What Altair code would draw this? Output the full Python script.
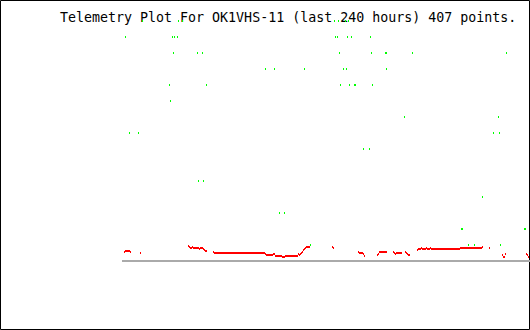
import altair as alt
import pandas as pd

TITLE = "Telemetry Plot For OK1VHS-11 (last 240 hours) 407 points."

# red series: runs of consecutive samples (start sample index, values)
red_starts = [2, 18, 66, 91, 143, 163, 210, 236, 255, 271, 283, 295, 367, 380, 404]
red_values = [
    [9, 10, 10, 10, 10, 10, 9],
    [8],
    [15, 14, 13, 13, 14, 13, 13, 13, 13, 13, 13, 12, 13, 13, 13, 12, 11, 10, 10],
    [9, 8, 8, 8, 8, 8, 8, 8, 8, 8, 8, 8, 8, 8, 8, 8, 8, 8, 8, 8, 8, 8, 8, 8, 8, 8,
     8, 8, 8, 8, 8, 8, 8, 8, 8, 8, 8, 8, 8, 8, 8, 8, 8, 8, 8, 8, 8, 8, 8, 8, 8, 8],
    [7, 6, 6, 6, 6, 6, 6, 6, 7, 7, 5, 5, 5, 5, 5, 5, 5, 4, 4, 4],
    [5, 5, 5, 5, 5, 5, 5, 5, 5, 5, 5, 5, 5, 7, 6, 7, 8, 9, 11, 12, 13, 14, 14, 14, 14],
    [14, 13],
    [9, 8, 8, 8, 8, 7, 5],
    [6, 7, 9, 9, 9, 9, 9, 9, 9, 9],
    [9, 8, 7, 8, 8, 8, 8, 8, 8],
    [9, 8, 7, 6, 6],
    [11, 12, 12, 12, 13, 12, 12, 12, 12, 13, 12, 12, 12, 13,
     12, 12, 12, 12, 12, 12, 12, 12, 12, 12, 12, 12, 12, 12, 12, 12, 12, 12, 12, 12,
     12, 12, 12, 12, 12, 12, 12, 12, 12,
     13, 13, 13, 13, 13, 13, 13, 13, 13, 13, 13, 13, 13, 13, 13, 13, 13, 13, 13, 13, 13, 13,
     14],
    [13],
    [6, 4, 4, 7],
    [7, 6, 4],
]

# green series: sample index and value
green_x = [20, 56, 60, 212, 216, 223, 226,
           3, 50, 52, 55, 213, 215, 225, 229, 248,
           51, 75, 80, 217, 249, 263, 264, 290, 384,
           143, 152, 182, 221, 224, 264,
           47, 84, 218, 227, 232, 233, 250,
           48,
           282, 376,
           7, 16, 371, 377,
           241, 247,
           76, 81,
           360,
           157, 162,
           339, 340, 402, 403,
           188, 346, 352, 378]
green_v = [240, 240, 240, 240, 240, 240, 240,
           224, 224, 224, 224, 224, 224, 224, 224, 224,
           208, 208, 208, 208, 208, 208, 208, 208, 208,
           192, 192, 192, 192, 192, 192,
           176, 176, 176, 176, 176, 176, 176,
           160,
           144, 144,
           128, 128, 128, 128,
           112, 112,
           80, 80,
           64,
           48, 48,
           32, 32, 32, 32,
           16, 16, 16, 16]

rx, rv = [], []
for s, vals in zip(red_starts, red_values):
    for k, v in enumerate(vals):
        rx.append(s + k)
        rv.append(v)
red_df = pd.DataFrame({"sample": rx, "value": rv})
green_df = pd.DataFrame({"sample": green_x, "value": green_v})

xs = alt.Scale(domain=[-0.5, 406.5], nice=False, zero=False)
ys = alt.Scale(domain=[0, 241], nice=False, zero=False)

one = pd.DataFrame({"a": [0]})

border = alt.Chart(one).mark_rect(fill="transparent", stroke="black", strokeWidth=1).encode(
    x=alt.value(-121.5), x2=alt.value(407.5), y=alt.value(-19.5), y2=alt.value(309.5)
)

title = alt.Chart(one).mark_text(
    text=TITLE, font="DejaVu Sans Mono", fontSize=13.3, align="left",
    baseline="alphabetic", color="black"
).encode(x=alt.value(-62), y=alt.value(2))

base_rule = alt.Chart(one).mark_rule(color="#aaaaaa", strokeWidth=2).encode(
    x=alt.value(0), x2=alt.value(408), y=alt.value(241)
)

red = alt.Chart(red_df).mark_tick(
    orient="vertical", thickness=1, size=2, color="#ff0000", opacity=1
).encode(
    x=alt.X("sample:Q", scale=xs, axis=None),
    y=alt.Y("value:Q", scale=ys, axis=None),
)

green = alt.Chart(green_df).mark_tick(
    orient="vertical", thickness=1, size=2, color="#00ff00", opacity=1
).encode(
    x=alt.X("sample:Q", scale=xs, axis=None),
    y=alt.Y("value:Q", scale=ys, axis=None),
)

chart = alt.layer(border, title, base_rule, red, green).properties(
    width=407, height=241,
    padding={"left": 122, "top": 20, "right": 1, "bottom": 69},
    autosize=alt.AutoSizeParams(type="none"),
    background="white",
).configure_view(strokeWidth=0)

chart.save("out.html", embed_options={"renderer": "svg", "actions": False})
